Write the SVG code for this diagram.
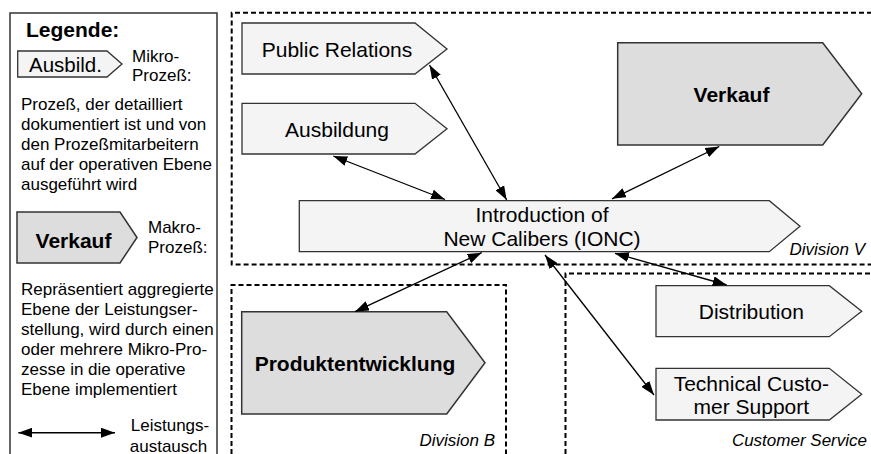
<svg xmlns="http://www.w3.org/2000/svg" width="871" height="454" viewBox="0 0 871 454">
<style>
text{font-family:"Liberation Sans",Arial,sans-serif;fill:#000}
.lg{font-size:17px}
.nt{font-size:21px;text-anchor:middle}
.bt{font-size:21px;font-weight:bold;text-anchor:middle}
.dl{font-size:17px;font-style:italic;text-anchor:end}
.mi{fill:#f4f4f4;stroke:#333;stroke-width:1.3}
.ma{fill:#dddddd;stroke:#333;stroke-width:1.5}
.dv{fill:none;stroke:#000;stroke-width:2;stroke-dasharray:5,3}
.cn{fill:none;stroke:#000;stroke-width:1.3;marker-start:url(#ah);marker-end:url(#ah)}
</style>
<defs>
<marker id="ah" viewBox="0 0 14 10" refX="14" refY="5" markerWidth="14" markerHeight="10" markerUnits="userSpaceOnUse" orient="auto-start-reverse"><path d="M0,0 L14,5 L0,10 z" fill="#000"/></marker>
</defs>
<rect width="871" height="454" fill="#fff"/>
<g id="legend">
<path d="M10,470 V13 H217 V470" fill="none" stroke="#333" stroke-width="1.5"/>
<text x="26" y="37" style="font-size:21px;font-weight:bold">Legende:</text>
<polygon class="mi" points="17.7,51 107,51 122,64 107,77 17.7,77"/>
<text x="65.5" y="72" style="font-size:20.5px;text-anchor:middle">Ausbild.</text>
<text class="lg" x="132" y="61.5">Mikro-</text>
<text class="lg" x="132" y="81">Prozeß:</text>
<text class="lg" x="21" y="110">Prozeß, der detailliert</text>
<text class="lg" x="21" y="130">dokumentiert ist und von</text>
<text class="lg" x="21" y="150">den Prozeßmitarbeitern</text>
<text class="lg" x="21" y="170">auf der operativen Ebene</text>
<text class="lg" x="21" y="190">ausgeführt wird</text>
<polygon class="ma" points="17,212 120,212 137,237.5 120,263 17,263"/>
<text class="bt" x="73.5" y="248">Verkauf</text>
<text class="lg" x="148" y="233">Makro-</text>
<text class="lg" x="148" y="253">Prozeß:</text>
<text class="lg" x="21" y="295">Repräsentiert aggregierte</text>
<text class="lg" x="21" y="315">Ebene der Leistungser-</text>
<text class="lg" x="21" y="335">stellung, wird durch einen</text>
<text class="lg" x="21" y="355">oder mehrere Mikro-Pro-</text>
<text class="lg" x="21" y="375">zesse in die operative</text>
<text class="lg" x="21" y="395">Ebene implementiert</text>
<line x1="18.3" y1="432.7" x2="115" y2="432.7" stroke="#000" stroke-width="1.6" marker-start="url(#ah)" marker-end="url(#ah)"/>
<text class="lg" x="170" y="431" text-anchor="middle">Leistungs-</text>
<text class="lg" x="168.5" y="451.5" text-anchor="middle">austausch</text>
</g>
<g id="divisions">
<path class="dv" d="M880,12.7 H231.7 V264.5 H880"/>
<text class="dl" x="865" y="255">Division V</text>
<path class="dv" d="M231.5,470 V285 H506 V470"/>
<text class="dl" x="495" y="445.5">Division B</text>
<path class="dv" d="M565.5,470 V273.5 H880"/>
<text class="dl" x="867" y="445.5">Customer Service</text>
</g>
<g id="pr">
<polygon class="mi" points="242,23 415,23 447,49 415,74 242,74"/>
<text class="nt" x="337" y="57">Public Relations</text>
</g>
<g id="ausbildung">
<polygon class="mi" points="242,103.3 415,103.3 447,128.7 415,154 242,154"/>
<text class="nt" x="337" y="136.5">Ausbildung</text>
</g>
<g id="verkauf">
<polygon class="ma" points="617.7,42.7 822.7,42.7 861.7,93.8 822.7,145 617.7,145"/>
<text class="bt" x="731.5" y="101.7">Verkauf</text>
</g>
<g id="ionc">
<polygon class="mi" points="299.3,200.7 769.3,200.7 800,226.2 769.3,251.7 299.3,251.7"/>
<text class="nt" x="542" y="222">Introduction of</text>
<text class="nt" x="542" y="245.7">New Calibers (IONC)</text>
</g>
<g id="produktentwicklung">
<polygon class="ma" points="241.7,311.7 446.7,311.7 485,362.8 446.7,414 241.7,414"/>
<text class="bt" x="355" y="370.7">Produktentwicklung</text>
</g>
<g id="distribution">
<polygon class="mi" points="656,285.7 829.3,285.7 861.7,311.2 829.3,336.7 656,336.7"/>
<text class="nt" x="751.3" y="319">Distribution</text>
</g>
<g id="tcs">
<polygon class="mi" points="656,368.3 829.3,368.3 861.7,394.2 829.3,420 656,420"/>
<text class="nt" x="751.3" y="391">Technical Custo-</text>
<text class="nt" x="751.3" y="413.5">mer Support</text>
</g>
<g id="connectors">
<line class="cn" x1="429.5" y1="65" x2="506.7" y2="200"/>
<line class="cn" x1="333.3" y1="156" x2="445" y2="199.5"/>
<line class="cn" x1="719.3" y1="146.5" x2="612" y2="198.8"/>
<line class="cn" x1="481.7" y1="252.7" x2="355" y2="311.7"/>
<line class="cn" x1="615" y1="253.3" x2="726.7" y2="285"/>
<line class="cn" x1="545" y1="255" x2="654" y2="395"/>
</g>
</svg>
